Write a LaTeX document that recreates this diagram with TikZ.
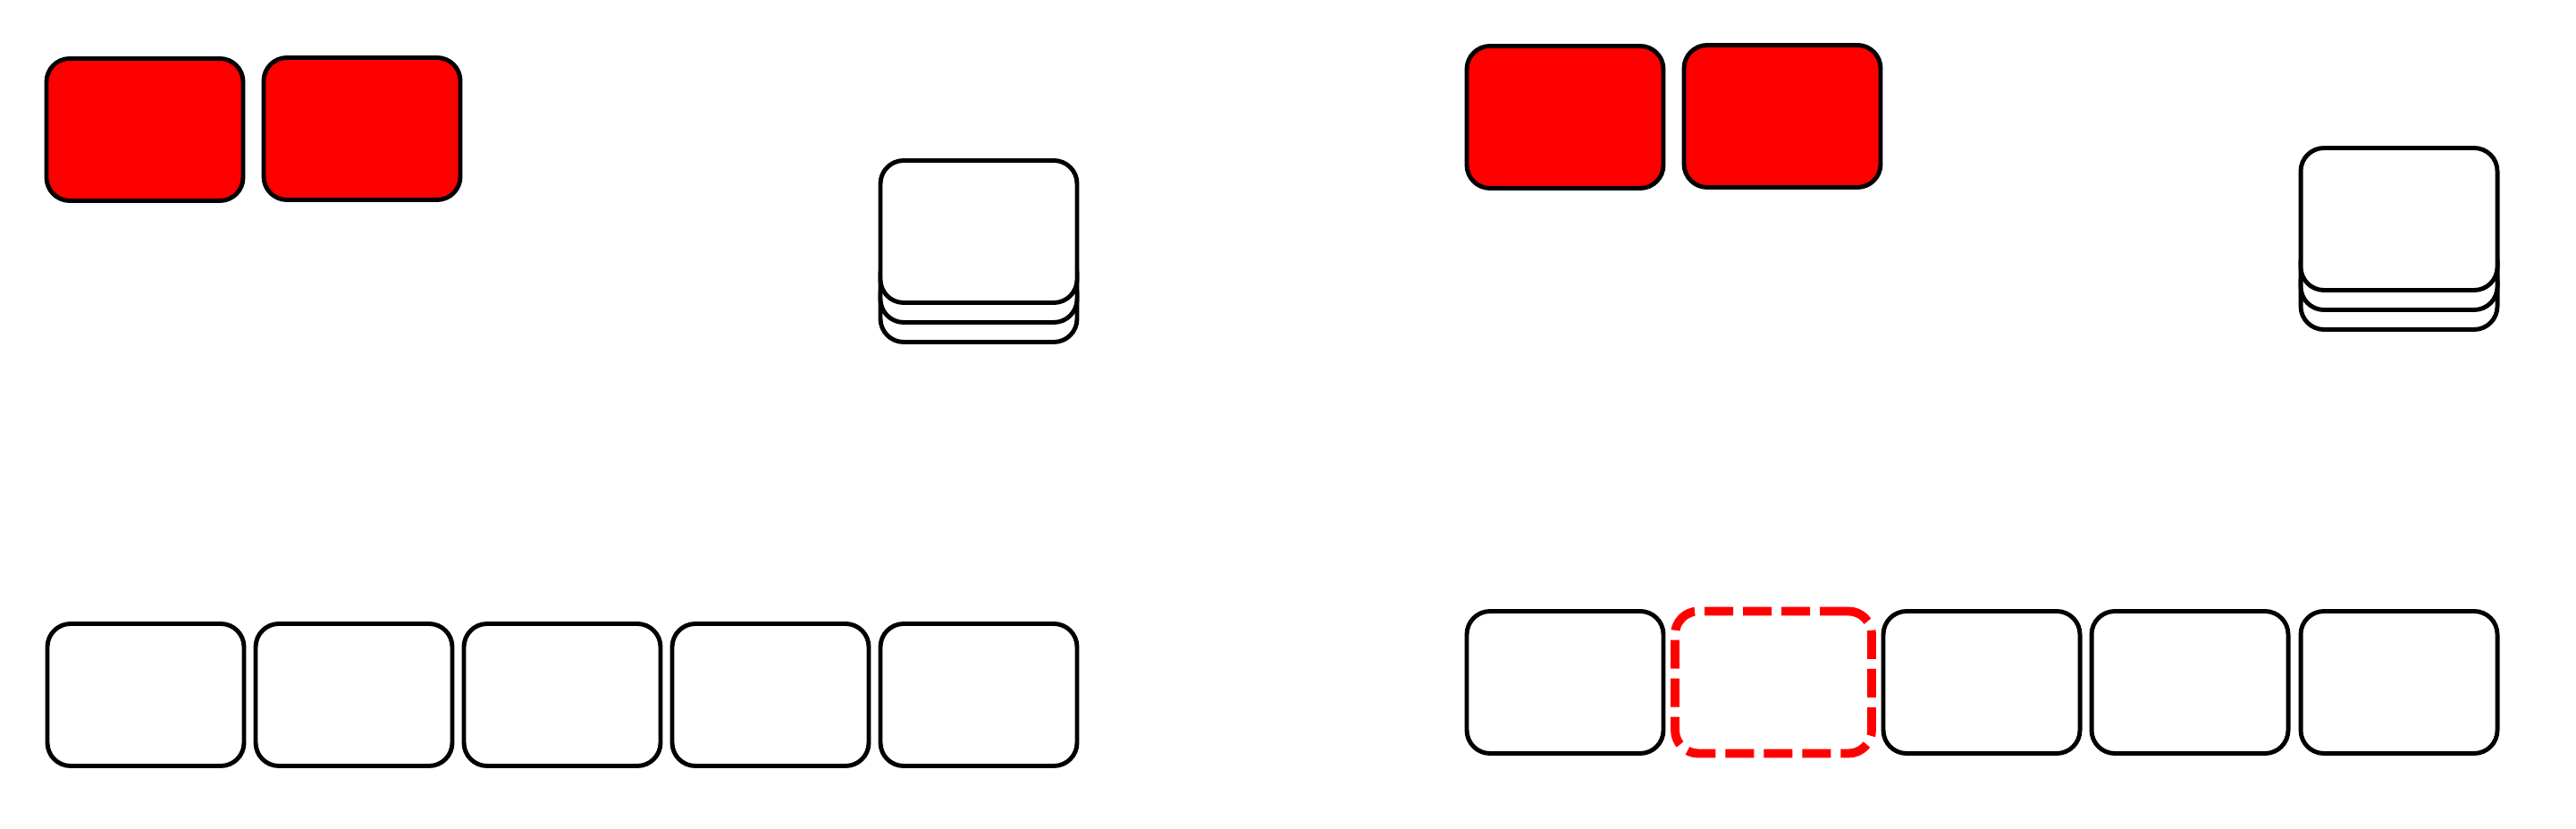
\documentclass[tikz,border=0pt]{standalone}
\usepackage{xcolor}
\usepackage{tikz}
\usetikzlibrary{positioning}
\definecolor{ink}{HTML}{000000}
\definecolor{hot}{HTML}{FF0000}
\tikzset{
  card/.style={draw=ink, fill=white, line width=1.4pt, rounded corners=0.26cm,
    minimum width=2.2cm, minimum height=1.59cm, inner sep=0pt},
  redcard/.style={card, fill=hot},
  backcard/.style={card, minimum height=0.8cm},
  gapcard/.style={draw=hot, line width=2.8pt, dash pattern=on 0.32cm off 0.11cm,
    rounded corners=0.26cm, minimum width=2.2cm, minimum height=1.59cm, inner sep=0pt}
}

\begin{document}
\begin{tikzpicture}
  \fill[white] (0,0) rectangle (28.82,9.27);
  \useasboundingbox (0,0) rectangle (28.82,9.27);

  % left state
  \node[redcard] (hA1) at (1.62,7.82) {};
  \node[redcard] (hA2) at (4.05,7.83) {};

  \node[backcard] (dA3) at (10.95,5.845) {};
  \node[backcard] (dA2) at (10.95,6.065) {};
  \node[card] (dA1) at (10.95,6.68) {};

  \node[card] (rA1) at (1.63,1.50) {};
  \node[card] (rA2) at (3.96,1.50) {};
  \node[card] (rA3) at (6.29,1.50) {};
  \node[card] (rA4) at (8.62,1.50) {};
  \node[card] (rA5) at (10.95,1.50) {};

  % right state
  \node[redcard] (hB1) at (17.51,7.96) {};
  \node[redcard] (hB2) at (19.94,7.97) {};

  \node[backcard] (dB3) at (26.84,5.985) {};
  \node[backcard] (dB2) at (26.84,6.205) {};
  \node[card] (dB1) at (26.84,6.82) {};

  \node[card] (rB1) at (17.51,1.64) {};
  \node[gapcard] (rB2) at (19.84,1.64) {};
  \node[card] (rB3) at (22.17,1.64) {};
  \node[card] (rB4) at (24.50,1.64) {};
  \node[card] (rB5) at (26.84,1.64) {};
\end{tikzpicture}
\end{document}
